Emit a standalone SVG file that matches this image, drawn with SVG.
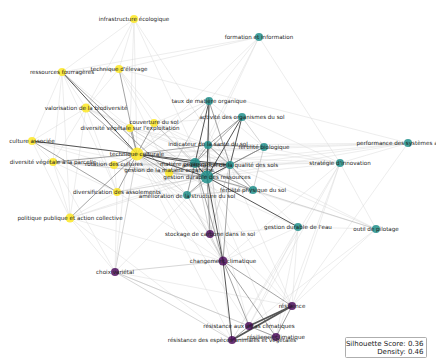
<svg xmlns="http://www.w3.org/2000/svg" width="436" height="361" viewBox="0 0 436 361">
<style>
text{font-family:"DejaVu Sans",Verdana,sans-serif;font-size:5.6px;fill:#222;text-anchor:middle;dominant-baseline:central}
.f{stroke:#d6d6d6;stroke-width:.45}
.l{stroke:#b4b4b4;stroke-width:.55}
.m{stroke:#858585;stroke-width:.75}
.d{stroke:#555;stroke-width:1}
.y circle{fill:#fde725;fill-opacity:.85}
.t circle{fill:#21918c;fill-opacity:.85}
.p circle{fill:#440154;fill-opacity:.8}
.legend text{font-size:7px;text-anchor:end;dominant-baseline:auto}
</style>
<rect width="436" height="361" fill="#fff"/>
<g id="connectors" fill="none">
<line class="f" x1="134" y1="19" x2="119" y2="69"/>
<line class="f" x1="134" y1="19" x2="86" y2="108"/>
<line class="f" x1="134" y1="19" x2="137" y2="154"/>
<line class="f" x1="134" y1="19" x2="207" y2="177"/>
<line class="f" x1="134" y1="19" x2="130" y2="128"/>
<line class="f" x1="134" y1="19" x2="62" y2="72"/>
<line class="f" x1="134" y1="19" x2="230" y2="165"/>
<line class="f" x1="259" y1="37" x2="209" y2="101"/>
<line class="f" x1="259" y1="37" x2="208" y2="145"/>
<line class="f" x1="259" y1="37" x2="340" y2="163"/>
<line class="f" x1="259" y1="37" x2="137" y2="154"/>
<line class="f" x1="259" y1="37" x2="62" y2="72"/>
<line class="f" x1="259" y1="37" x2="119" y2="69"/>
<line class="f" x1="259" y1="37" x2="195" y2="163"/>
<line class="f" x1="408" y1="143" x2="137" y2="154"/>
<line class="f" x1="408" y1="143" x2="207" y2="177"/>
<line class="f" x1="408" y1="143" x2="230" y2="165"/>
<line class="f" x1="408" y1="143" x2="264" y2="147"/>
<line class="f" x1="408" y1="143" x2="340" y2="163"/>
<line class="f" x1="408" y1="143" x2="208" y2="145"/>
<line class="f" x1="408" y1="143" x2="292" y2="306"/>
<line class="f" x1="408" y1="143" x2="195" y2="163"/>
<line class="f" x1="408" y1="143" x2="119" y2="69"/>
<line class="f" x1="340" y1="163" x2="137" y2="154"/>
<line class="f" x1="340" y1="163" x2="207" y2="177"/>
<line class="f" x1="340" y1="163" x2="230" y2="165"/>
<line class="f" x1="340" y1="163" x2="264" y2="147"/>
<line class="f" x1="340" y1="163" x2="208" y2="145"/>
<line class="f" x1="340" y1="163" x2="232" y2="340"/>
<line class="f" x1="340" y1="163" x2="249" y2="326"/>
<line class="f" x1="340" y1="163" x2="223" y2="261"/>
<line class="f" x1="340" y1="163" x2="195" y2="163"/>
<line class="f" x1="340" y1="163" x2="242" y2="117"/>
<line class="f" x1="340" y1="163" x2="276" y2="337"/>
<line class="f" x1="340" y1="163" x2="292" y2="306"/>
<line class="f" x1="340" y1="163" x2="376" y2="229"/>
<line class="f" x1="376" y1="229" x2="207" y2="177"/>
<line class="f" x1="376" y1="229" x2="230" y2="165"/>
<line class="l" x1="376" y1="229" x2="253" y2="190"/>
<line class="f" x1="376" y1="229" x2="249" y2="326"/>
<line class="f" x1="376" y1="229" x2="292" y2="306"/>
<line class="f" x1="376" y1="229" x2="298" y2="227"/>
<line class="f" x1="376" y1="229" x2="208" y2="145"/>
<line class="f" x1="298" y1="227" x2="137" y2="154"/>
<line class="f" x1="298" y1="227" x2="249" y2="326"/>
<line class="f" x1="298" y1="227" x2="232" y2="340"/>
<line class="f" x1="298" y1="227" x2="292" y2="306"/>
<line class="f" x1="298" y1="227" x2="230" y2="165"/>
<line class="f" x1="298" y1="227" x2="210" y2="234"/>
<line class="f" x1="298" y1="227" x2="223" y2="261"/>
<line class="f" x1="298" y1="227" x2="276" y2="337"/>
<line class="f" x1="70" y1="218" x2="207" y2="177"/>
<line class="f" x1="70" y1="218" x2="115" y2="272"/>
<line class="f" x1="70" y1="218" x2="117" y2="192"/>
<line class="f" x1="70" y1="218" x2="62" y2="72"/>
<line class="f" x1="70" y1="218" x2="32" y2="141"/>
<line class="f" x1="70" y1="218" x2="53" y2="162"/>
<line class="f" x1="70" y1="218" x2="223" y2="261"/>
<line class="f" x1="70" y1="218" x2="86" y2="108"/>
<line class="f" x1="70" y1="218" x2="232" y2="340"/>
<line class="f" x1="70" y1="218" x2="230" y2="165"/>
<line class="l" x1="115" y1="272" x2="137" y2="154"/>
<line class="f" x1="115" y1="272" x2="117" y2="192"/>
<line class="f" x1="115" y1="272" x2="53" y2="162"/>
<line class="f" x1="115" y1="272" x2="207" y2="177"/>
<line class="f" x1="115" y1="272" x2="292" y2="306"/>
<line class="f" x1="115" y1="272" x2="276" y2="337"/>
<line class="f" x1="115" y1="272" x2="130" y2="128"/>
<line class="f" x1="32" y1="141" x2="53" y2="162"/>
<line class="f" x1="32" y1="141" x2="62" y2="72"/>
<line class="f" x1="32" y1="141" x2="86" y2="108"/>
<line class="f" x1="32" y1="141" x2="207" y2="177"/>
<line class="f" x1="32" y1="141" x2="114" y2="165"/>
<line class="f" x1="32" y1="141" x2="230" y2="165"/>
<line class="f" x1="53" y1="162" x2="117" y2="192"/>
<line class="f" x1="53" y1="162" x2="62" y2="72"/>
<line class="f" x1="53" y1="162" x2="86" y2="108"/>
<line class="l" x1="53" y1="162" x2="207" y2="177"/>
<line class="f" x1="86" y1="108" x2="62" y2="72"/>
<line class="f" x1="86" y1="108" x2="119" y2="69"/>
<line class="f" x1="86" y1="108" x2="130" y2="128"/>
<line class="f" x1="86" y1="108" x2="207" y2="177"/>
<line class="f" x1="86" y1="108" x2="230" y2="165"/>
<line class="f" x1="86" y1="108" x2="117" y2="192"/>
<line class="l" x1="62" y1="72" x2="119" y2="69"/>
<line class="f" x1="62" y1="72" x2="130" y2="128"/>
<line class="f" x1="62" y1="72" x2="117" y2="192"/>
<line class="f" x1="119" y1="69" x2="154" y2="123"/>
<line class="f" x1="119" y1="69" x2="169" y2="173"/>
<line class="f" x1="119" y1="69" x2="207" y2="177"/>
<line class="f" x1="117" y1="192" x2="114" y2="165"/>
<line class="l" x1="117" y1="192" x2="207" y2="177"/>
<line class="f" x1="117" y1="192" x2="230" y2="165"/>
<line class="f" x1="117" y1="192" x2="187" y2="195"/>
<line class="f" x1="117" y1="192" x2="223" y2="261"/>
<line class="l" x1="154" y1="123" x2="207" y2="177"/>
<line class="f" x1="154" y1="123" x2="230" y2="165"/>
<line class="l" x1="154" y1="123" x2="195" y2="163"/>
<line class="f" x1="154" y1="123" x2="208" y2="145"/>
<line class="f" x1="154" y1="123" x2="242" y2="117"/>
<line class="f" x1="154" y1="123" x2="209" y2="101"/>
<line class="l" x1="130" y1="128" x2="207" y2="177"/>
<line class="f" x1="130" y1="128" x2="230" y2="165"/>
<line class="f" x1="130" y1="128" x2="208" y2="145"/>
<line class="l" x1="114" y1="165" x2="207" y2="177"/>
<line class="l" x1="114" y1="165" x2="195" y2="163"/>
<line class="f" x1="114" y1="165" x2="230" y2="165"/>
<line class="f" x1="114" y1="165" x2="187" y2="195"/>
<line class="l" x1="169" y1="173" x2="207" y2="177"/>
<line class="m" x1="169" y1="173" x2="195" y2="163"/>
<line class="l" x1="169" y1="173" x2="230" y2="165"/>
<line class="l" x1="169" y1="173" x2="209" y2="101"/>
<line class="f" x1="169" y1="173" x2="187" y2="195"/>
<line class="f" x1="169" y1="173" x2="208" y2="145"/>
<line class="l" x1="210" y1="234" x2="195" y2="163"/>
<line class="l" x1="210" y1="234" x2="230" y2="165"/>
<line class="f" x1="210" y1="234" x2="209" y2="101"/>
<line class="f" x1="210" y1="234" x2="187" y2="195"/>
<line class="l" x1="210" y1="234" x2="223" y2="261"/>
<line class="f" x1="210" y1="234" x2="208" y2="145"/>
<line class="f" x1="210" y1="234" x2="137" y2="154"/>
<line class="l" x1="187" y1="195" x2="253" y2="190"/>
<line class="l" x1="187" y1="195" x2="230" y2="165"/>
<line class="l" x1="253" y1="190" x2="264" y2="147"/>
<line class="f" x1="253" y1="190" x2="137" y2="154"/>
<line class="f" x1="253" y1="190" x2="208" y2="145"/>
<line class="l" x1="264" y1="147" x2="242" y2="117"/>
<line class="f" x1="264" y1="147" x2="137" y2="154"/>
<line class="f" x1="264" y1="147" x2="209" y2="101"/>
<line class="f" x1="292" y1="306" x2="207" y2="177"/>
<line class="f" x1="292" y1="306" x2="137" y2="154"/>
<line class="f" x1="292" y1="306" x2="230" y2="165"/>
<line class="f" x1="249" y1="326" x2="137" y2="154"/>
<line class="f" x1="249" y1="326" x2="207" y2="177"/>
<line class="f" x1="232" y1="340" x2="137" y2="154"/>
<line class="f" x1="232" y1="340" x2="207" y2="177"/>
<line class="f" x1="276" y1="337" x2="207" y2="177"/>
<line class="f" x1="223" y1="261" x2="137" y2="154"/>
<line class="l" x1="223" y1="261" x2="208" y2="145"/>
<line class="l" x1="223" y1="261" x2="187" y2="195"/>
<line class="m" x1="137" y1="154" x2="208" y2="145"/>
<line class="m" x1="137" y1="154" x2="169" y2="173"/>
<line class="m" x1="137" y1="154" x2="114" y2="165"/>
<line class="m" x1="137" y1="154" x2="130" y2="128"/>
<line class="m" x1="137" y1="154" x2="154" y2="123"/>
<line class="m" x1="137" y1="154" x2="53" y2="162"/>
<line class="m" x1="137" y1="154" x2="117" y2="192"/>
<line class="m" x1="137" y1="154" x2="86" y2="108"/>
<line class="l" x1="137" y1="154" x2="187" y2="195"/>
<line class="l" x1="137" y1="154" x2="209" y2="101"/>
<line class="m" x1="62" y1="72" x2="169" y2="173"/>
<line class="m" x1="119" y1="69" x2="137" y2="154"/>
<line class="m" x1="32" y1="141" x2="117" y2="192"/>
<line class="m" x1="70" y1="218" x2="137" y2="154"/>
<line class="l" x1="53" y1="162" x2="114" y2="165"/>
<line class="m" x1="207" y1="177" x2="264" y2="147"/>
<line class="m" x1="207" y1="177" x2="253" y2="190"/>
<line class="m" x1="207" y1="177" x2="187" y2="195"/>
<line class="m" x1="207" y1="177" x2="210" y2="234"/>
<line class="m" x1="195" y1="163" x2="230" y2="165"/>
<line class="m" x1="195" y1="163" x2="208" y2="145"/>
<line class="m" x1="195" y1="163" x2="242" y2="117"/>
<line class="m" x1="195" y1="163" x2="187" y2="195"/>
<line class="m" x1="195" y1="163" x2="253" y2="190"/>
<line class="m" x1="208" y1="145" x2="209" y2="101"/>
<line class="m" x1="208" y1="145" x2="242" y2="117"/>
<line class="m" x1="208" y1="145" x2="230" y2="165"/>
<line class="m" x1="208" y1="145" x2="264" y2="147"/>
<line class="m" x1="230" y1="165" x2="264" y2="147"/>
<line class="m" x1="230" y1="165" x2="253" y2="190"/>
<line class="m" x1="230" y1="165" x2="209" y2="101"/>
<line class="m" x1="223" y1="261" x2="249" y2="326"/>
<line class="m" x1="223" y1="261" x2="276" y2="337"/>
<line class="m" x1="223" y1="261" x2="292" y2="306"/>
<line class="m" x1="223" y1="261" x2="195" y2="163"/>
<line class="m" x1="223" y1="261" x2="230" y2="165"/>
<line class="m" x1="232" y1="340" x2="249" y2="326"/>
<line class="m" x1="276" y1="337" x2="292" y2="306"/>
<line class="m" x1="249" y1="326" x2="276" y2="337"/>
<line class="m" x1="232" y1="340" x2="276" y2="337"/>
<line class="l" x1="115" y1="272" x2="232" y2="340"/>
<line class="l" x1="115" y1="272" x2="249" y2="326"/>
<line class="l" x1="115" y1="272" x2="223" y2="261"/>
<line class="d" x1="137" y1="154" x2="207" y2="177"/>
<line class="d" x1="137" y1="154" x2="195" y2="163"/>
<line class="d" x1="137" y1="154" x2="230" y2="165"/>
<line class="d" x1="137" y1="154" x2="32" y2="141"/>
<line class="d" x1="62" y1="72" x2="137" y2="154"/>
<line class="d" x1="207" y1="177" x2="195" y2="163"/>
<line class="d" x1="207" y1="177" x2="230" y2="165"/>
<line class="d" x1="207" y1="177" x2="208" y2="145"/>
<line class="d" x1="207" y1="177" x2="209" y2="101"/>
<line class="d" x1="207" y1="177" x2="242" y2="117"/>
<line class="d" x1="207" y1="177" x2="298" y2="227"/>
<line class="d" x1="207" y1="177" x2="223" y2="261"/>
<line class="d" x1="195" y1="163" x2="209" y2="101"/>
<line class="d" x1="230" y1="165" x2="242" y2="117"/>
<line class="d" x1="223" y1="261" x2="232" y2="340"/>
<line class="d" x1="249" y1="326" x2="292" y2="306" style="stroke-width:1.8"/>
<line class="d" x1="232" y1="340" x2="292" y2="306" style="stroke-width:1.8"/>
</g>
<g id="n-infrastructure" class="y"><circle cx="134" cy="19" r="4"/><text x="134" y="19">infrastructure écologique</text></g>
<g id="n-elevage" class="y"><circle cx="119" cy="69" r="4"/><text x="119" y="69">technique d'élevage</text></g>
<g id="n-fourrageres" class="y"><circle cx="62" cy="72" r="4"/><text x="62" y="72">ressources fourragères</text></g>
<g id="n-valorisation" class="y"><circle cx="86" cy="108" r="4.5"/><text x="86" y="108">valorisation de la biodiversité</text></g>
<g id="n-couverture" class="y"><circle cx="154" cy="123" r="4"/><text x="154" y="122">couverture du sol</text></g>
<g id="n-diversite-exploitation" class="y"><circle cx="130" cy="128" r="4"/><text x="130" y="128">diversité végétale sur l'exploitation</text></g>
<g id="n-culture-associee" class="y"><circle cx="32" cy="141" r="4"/><text x="32" y="141">culture associée</text></g>
<g id="n-technique-culturale" class="y"><circle cx="137" cy="154" r="6.5"/><text x="137" y="154">technique culturale</text></g>
<g id="n-diversite-parcelle" class="y"><circle cx="53" cy="162" r="4"/><text x="53" y="162">diversité végétale à la parcelle</text></g>
<g id="n-rotation" class="y"><circle cx="114" cy="165" r="4"/><text x="114" y="164">rotation des cultures</text></g>
<g id="n-gestion-mo" class="y"><circle cx="169" cy="173" r="4"/><text x="169" y="170">gestion de la matière organique</text></g>
<g id="n-diversification" class="y"><circle cx="117" cy="192" r="4"/><text x="117" y="192">diversification des assolements</text></g>
<g id="n-politique" class="y"><circle cx="70" cy="218" r="4.5"/><text x="70" y="218">politique publique et action collective</text></g>
<g id="n-formation" class="t"><circle cx="259" cy="37" r="4"/><text x="259" y="37">formation et information</text></g>
<g id="n-taux-mo" class="t"><circle cx="209" cy="101" r="4"/><text x="209" y="101">taux de matière organique</text></g>
<g id="n-activite" class="t"><circle cx="242" cy="117" r="4"/><text x="242" y="117">activité des organismes du sol</text></g>
<g id="n-indicateur" class="t"><circle cx="208" cy="145" r="4"/><text x="208" y="144">indicateur de la santé du sol</text></g>
<g id="n-fertilite-bio" class="t"><circle cx="264" cy="147" r="4"/><text x="264" y="147">fertilité biologique</text></g>
<g id="n-strategie" class="t"><circle cx="340" cy="163" r="4"/><text x="340" y="163">stratégie d'innovation</text></g>
<g id="n-performance" class="t"><circle cx="408" cy="143" r="4"/><text x="408" y="143">performance des systèmes agricoles</text></g>
<g id="n-mo-sol" class="t"><circle cx="195" cy="163" r="5"/><text x="195" y="164">matière organique du sol</text></g>
<g id="n-qualite" class="t"><circle cx="230" cy="165" r="4"/><text x="230" y="165">amélioration de la qualité des sols</text></g>
<g id="n-gestion-ressources" class="t"><circle cx="207" cy="177" r="6.5"/><text x="207" y="177">gestion durable des ressources</text></g>
<g id="n-structure" class="t"><circle cx="187" cy="195" r="4"/><text x="187" y="196">amélioration de la structure du sol</text></g>
<g id="n-fertilite-phys" class="t"><circle cx="253" cy="190" r="4"/><text x="253" y="190">fertilité physique du sol</text></g>
<g id="n-eau" class="t"><circle cx="298" cy="227" r="4"/><text x="298" y="227">gestion durable de l'eau</text></g>
<g id="n-pilotage" class="t"><circle cx="376" cy="229" r="4"/><text x="376" y="229">outil de pilotage</text></g>
<g id="n-carbone" class="p"><circle cx="210" cy="234" r="4"/><text x="210" y="234">stockage de carbone dans le sol</text></g>
<g id="n-changement" class="p"><circle cx="223" cy="261" r="4.5"/><text x="223" y="261">changement climatique</text></g>
<g id="n-choix" class="p"><circle cx="115" cy="272" r="4"/><text x="115" y="272">choix variétal</text></g>
<g id="n-resilience" class="p"><circle cx="292" cy="306" r="4"/><text x="292" y="306">résilience</text></g>
<g id="n-aleas" class="p"><circle cx="249" cy="326" r="4"/><text x="249" y="326">résistance aux aléas climatiques</text></g>
<g id="n-resilience-clim" class="p"><circle cx="276" cy="337" r="4"/><text x="276" y="337">résilience climatique</text></g>
<g id="n-especes" class="p"><circle cx="232" cy="340" r="4"/><text x="232" y="340">résistance des espèces animales et végétales</text></g>
<g id="legend" class="legend">
<rect x="345.5" y="337.5" width="81" height="20" fill="#fff" stroke="#999" stroke-width="0.8" rx="1"/>
<text x="423.5" y="345.5">Silhouette Score: 0.36</text>
<text x="423.5" y="354">Density: 0.46</text>
</g>
</svg>
